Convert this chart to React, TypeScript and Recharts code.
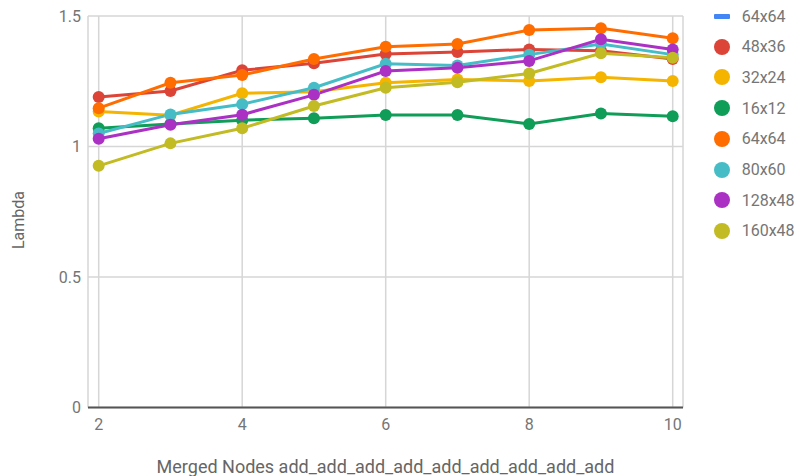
import React from "react";
import { LineChart, Line, XAxis, YAxis, CartesianGrid, Label } from "recharts";

// Merged node counts along the x axis
const mergedNodes = [2, 3, 4, 5, 6, 7, 8, 9, 10];

// Lambda per tile size
const lambda64x64Empty: (number | null)[] = [null, null, null, null, null, null, null, null, null];
const lambda48x36 = [1.19, 1.213, 1.292, 1.319, 1.354, 1.362, 1.372, 1.367, 1.335];
const lambda32x24 = [1.134, 1.12, 1.204, 1.21, 1.244, 1.257, 1.251, 1.265, 1.251];
const lambda16x12 = [1.07, 1.086, 1.101, 1.108, 1.121, 1.121, 1.086, 1.126, 1.116];
const lambda64x64 = [1.147, 1.244, 1.274, 1.335, 1.382, 1.393, 1.446, 1.453, 1.415];
const lambda80x60 = [1.05, 1.123, 1.162, 1.225, 1.317, 1.31, 1.352, 1.393, 1.352];
const lambda128x48 = [1.03, 1.083, 1.122, 1.198, 1.289, 1.302, 1.328, 1.411, 1.372];
const lambda160x48 = [0.926, 1.012, 1.07, 1.155, 1.225, 1.246, 1.28, 1.357, 1.34];

const xTicks = [2, 4, 6, 8, 10];
const yTicks = [0, 0.5, 1, 1.5];

const series = [
  { key: "s0", name: "64x64", color: "#4285f4", values: lambda64x64Empty, line: true },
  { key: "s1", name: "48x36", color: "#db4437", values: lambda48x36 },
  { key: "s2", name: "32x24", color: "#f4b400", values: lambda32x24 },
  { key: "s3", name: "16x12", color: "#0f9d58", values: lambda16x12 },
  { key: "s4", name: "64x64", color: "#ff6d00", values: lambda64x64 },
  { key: "s5", name: "80x60", color: "#46bdc6", values: lambda80x60 },
  { key: "s6", name: "128x48", color: "#ab30c4", values: lambda128x48 },
  { key: "s7", name: "160x48", color: "#c2bb23", values: lambda160x48 },
];

const data = mergedNodes.map((x, i) => {
  const row: Record<string, number | null> = { x };
  series.forEach((s) => {
    row[s.key] = s.values[i];
  });
  return row;
});

const FONT = "Roboto, 'Noto Sans', sans-serif";
const TICK_COLOR = "#757575";
const TITLE_COLOR = "#666";

const YTitle = (props: any) => {
  const vb = props.viewBox;
  const cx = vb.x + 18.3;
  const cy = vb.y + vb.height / 2 + 8.25;
  return (
    <text
      x={cx}
      y={cy}
      transform={`rotate(-90 ${cx} ${cy})`}
      textAnchor="middle"
      dominantBaseline="central"
      fontFamily={FONT}
      fontSize={16}
      fill={TITLE_COLOR}
    >
      Lambda
    </text>
  );
};

const XTitle = (props: any) => {
  const vb = props.viewBox;
  return (
    <text
      x={vb.x + vb.width / 2}
      y={vb.y + 65.8}
      textAnchor="middle"
      fontFamily={FONT}
      fontSize={18}
      fill={TITLE_COLOR}
    >
      Merged Nodes add_add_add_add_add_add_add_add_add
    </text>
  );
};

export default function App() {
  return (
    <div
      style={{
        position: "relative",
        width: 799,
        height: 476,
        fontFamily: FONT,
        overflow: "hidden",
      }}
    >
      <style>{"html, body { margin: 0; padding: 0; overflow: hidden; }"}</style>
      <LineChart
        width={799}
        height={476}
        data={data}
        margin={{ top: 16, right: 116, left: 0, bottom: 8.5 }}
      >
        <CartesianGrid stroke="#d6d6d6" strokeWidth={1.5} />
        <XAxis
          dataKey="x"
          type="number"
          domain={[2, 10]}
          ticks={xTicks}
          padding={{ left: 10.7, right: 10.3 }}
          height={60}
          tickLine={false}
          tickSize={0}
          tickMargin={11}
          axisLine={{ stroke: "#555", strokeWidth: 2 }}
          tick={{ fill: TICK_COLOR, fontSize: 16, fontFamily: FONT }}
          interval={0}
        >
          <Label content={XTitle} />
        </XAxis>
        <YAxis
          type="number"
          domain={[0, 1.5]}
          ticks={yTicks}
          width={88}
          axisLine={false}
          tickLine={false}
          tickSize={0}
          tickMargin={7}
          tick={{ fill: TICK_COLOR, fontSize: 16, fontFamily: FONT }}
          interval={0}
        >
          <Label content={YTitle} />
        </YAxis>
        {series.map((s) => (
          <Line
            key={s.key}
            dataKey={s.key}
            name={s.name}
            stroke={s.color}
            strokeWidth={3}
            dot={{ r: 6, fill: s.color, stroke: "none" }}
            activeDot={false}
            isAnimationActive={false}
          />
        ))}
      </LineChart>
      <div style={{ position: "absolute", left: 714, top: 0 }}>
        {series.map((s, i) => (
          <div
            key={s.key}
            style={{
              position: "absolute",
              top: 16 + i * 30.7 - 10,
              left: 0,
              height: 20,
              width: 84,
              display: "flex",
              alignItems: "center",
            }}
          >
            <div style={{ width: 16, display: "flex", justifyContent: "center" }}>
              {s.line ? (
                <div style={{ width: 17, height: 5, background: s.color, borderRadius: 1 }} />
              ) : (
                <div style={{ width: 16, height: 16, borderRadius: 8, background: s.color }} />
              )}
            </div>
            <span
              style={{
                marginLeft: 11.7,
                fontSize: 16,
                color: TICK_COLOR,
                fontFamily: FONT,
                whiteSpace: "nowrap",
              }}
            >
              {s.name}
            </span>
          </div>
        ))}
      </div>
    </div>
  );
}
